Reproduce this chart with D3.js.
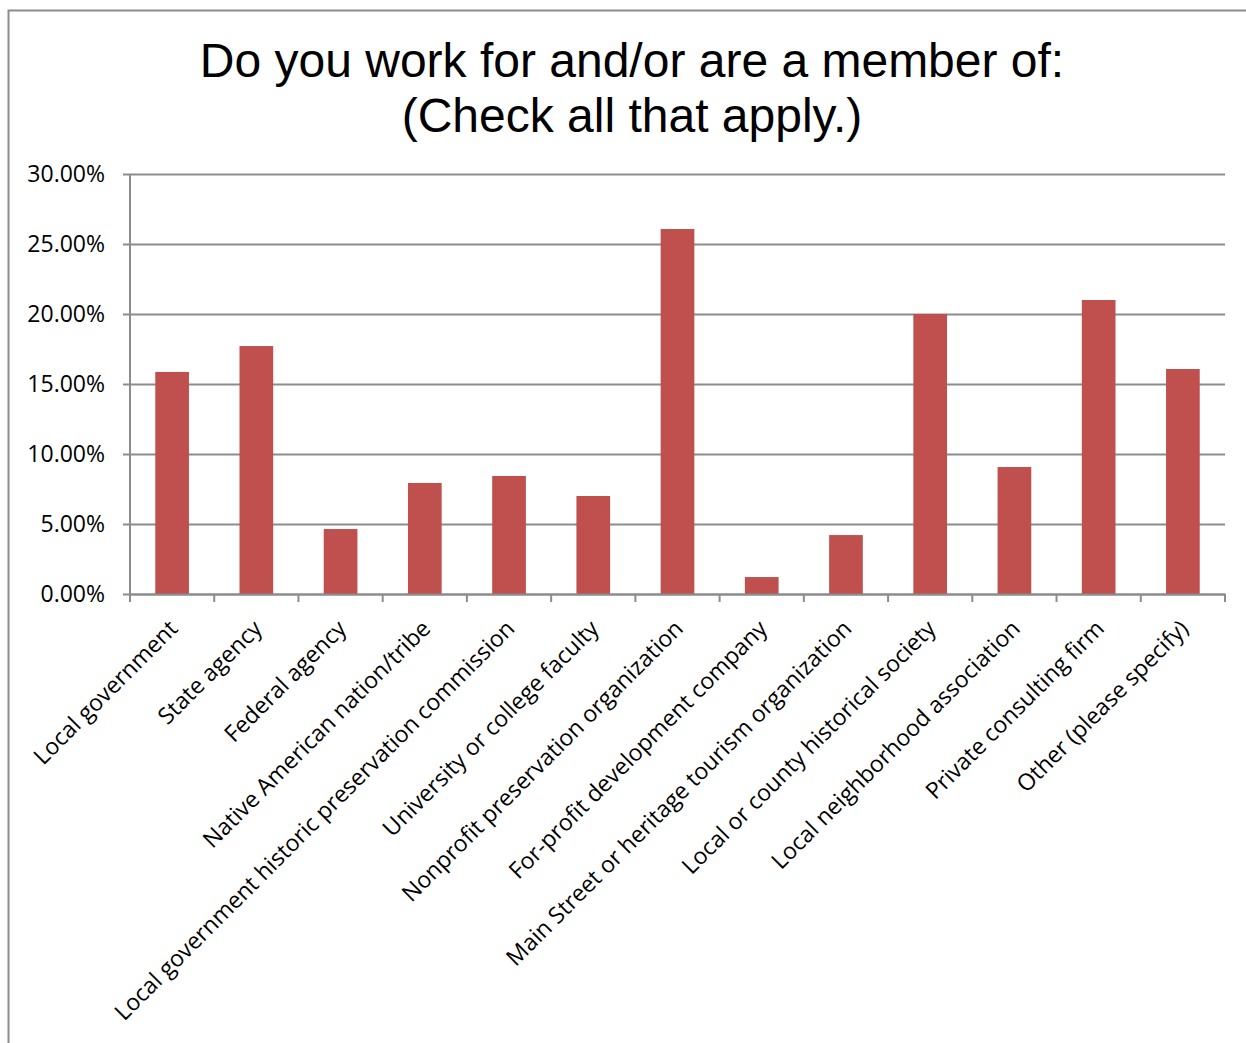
<!DOCTYPE html>
<html>
<head>
<meta charset="utf-8">
<script src="https://cdn.jsdelivr.net/npm/d3@7"></script>
<style>
  html, body { margin: 0; padding: 0; background: #fff; }
  svg { display: block; }
</style>
</head>
<body>
<svg id="chart" width="1246" height="1043"></svg>
<script>
const titleLines = ["Do you work for and/or are a member of:", "(Check all that apply.)"];
const categories = [
  "Local government",
  "State agency",
  "Federal agency",
  "Native American nation/tribe",
  "Local government historic preservation commission",
  "University or college faculty",
  "Nonprofit preservation organization",
  "For-profit development company",
  "Main Street or heritage tourism organization",
  "Local or county historical society",
  "Local neighborhood association",
  "Private consulting firm",
  "Other (please specify)"
];
const values = [15.86, 17.71, 4.64, 7.93, 8.43, 7.00, 26.07, 1.21, 4.21, 20.00, 9.07, 21.00, 16.07];
const yTicks = [0, 5, 10, 15, 20, 25, 30];

const svg = d3.select("#chart");
const W = 1246, H = 1043;
const plot = { left: 130, right: 1225, top: 174, bottom: 594 };
const gridColor = "#8c8c8c";
const barColor = "#c0504d";
const labelFont = "'Open Sans', 'DejaVu Sans', sans-serif";

// outer frame
svg.append("rect")
  .attr("x", 8.5).attr("y", 10.5)
  .attr("width", W + 20).attr("height", H + 20)
  .attr("fill", "#fff").attr("stroke", "#8c8c8c").attr("stroke-width", 2);

// title
svg.append("text")
  .attr("x", 632).attr("y", 77)
  .attr("text-anchor", "middle")
  .attr("font-family", "'Liberation Sans', Arial, sans-serif")
  .attr("font-size", 48)
  .attr("fill", "#000")
  .selectAll("tspan").data(titleLines).join("tspan")
  .attr("x", 632)
  .attr("dy", (d, i) => i === 0 ? 0 : 55)
  .text(d => d);

const x = d3.scaleBand().domain(categories).range([plot.left, plot.right]).paddingInner(0.6).paddingOuter(0.3);
const xb = d3.scaleBand().domain(categories).range([plot.left, plot.right]);
const y = d3.scaleLinear().domain([0, 30]).range([plot.bottom, plot.top]);

// gridlines + y axis ticks
const yAxis = d3.axisLeft(y)
  .tickValues(yTicks)
  .tickSize(-(plot.right - plot.left))
  .tickPadding(25)
  .tickFormat(d => d.toFixed(2) + "%");
const gy = svg.append("g").attr("transform", `translate(${plot.left},0)`).call(yAxis);
gy.select(".domain").remove();
gy.selectAll(".tick line").attr("stroke", gridColor).attr("stroke-width", 2).attr("x1", -7);
gy.selectAll(".tick text")
  .attr("font-family", labelFont).attr("font-size", 23).attr("fill", "#000")
  .attr("dy", "0.32em");

// y axis line
svg.append("line")
  .attr("x1", plot.left).attr("x2", plot.left)
  .attr("y1", plot.top).attr("y2", plot.bottom)
  .attr("stroke", gridColor).attr("stroke-width", 2);

// bars
svg.append("g").selectAll("rect").data(values).join("rect")
  .attr("x", (d, i) => x(categories[i]))
  .attr("width", x.bandwidth())
  .attr("y", d => y(d))
  .attr("height", d => y(0) - y(d))
  .attr("fill", barColor);

// x axis
const xAxis = d3.axisBottom(xb).tickSize(0).tickFormat("");
const gx = svg.append("g").attr("transform", `translate(0,${plot.bottom})`).call(xAxis);
gx.select(".domain").attr("stroke", gridColor).attr("stroke-width", 2);
// category boundary ticks
const bounds = categories.map(c => xb(c)).concat([plot.right]);
svg.append("g").selectAll("line").data(bounds).join("line")
  .attr("x1", d => d).attr("x2", d => d)
  .attr("y1", plot.bottom).attr("y2", plot.bottom + 8)
  .attr("stroke", gridColor).attr("stroke-width", 2);

// rotated category labels
svg.append("g").selectAll("text").data(categories).join("text")
  .attr("transform", d => `translate(${xb(d) + xb.bandwidth() / 2 + 7},${plot.bottom + 36}) rotate(-45)`)
  .attr("text-anchor", "end")
  .attr("font-family", labelFont).attr("font-size", 23).attr("fill", "#000")
  .text(d => d);
</script>
</body>
</html>
